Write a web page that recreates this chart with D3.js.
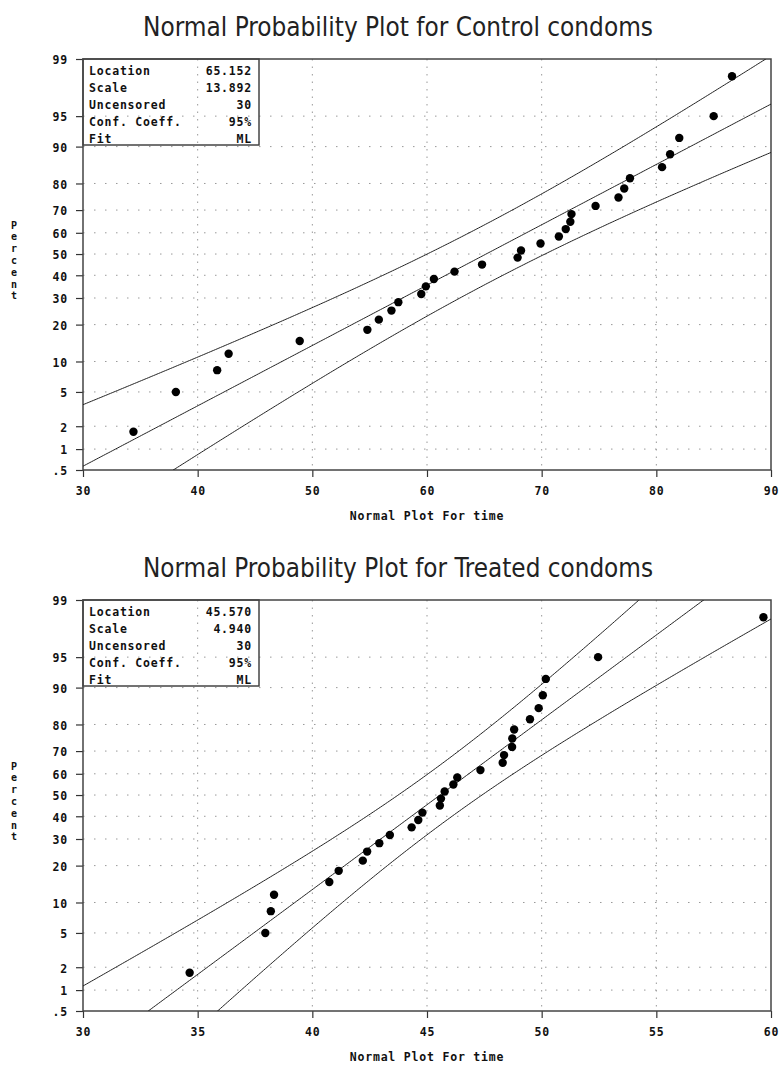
<!DOCTYPE html>
<html>
<head>
<meta charset="utf-8">
<script src="https://cdn.jsdelivr.net/npm/d3@7"></script>
<style>
  body { margin: 0; background: #fff; }
  svg { display: block; }
  .lbl { font-family: "DejaVu Sans Mono", monospace; font-weight: bold; font-size: 11.5px; fill: #111; letter-spacing: 0.8px; }
  .ylet { font-family: "DejaVu Sans Mono", monospace; font-weight: bold; font-size: 10px; fill: #111; }
  .title { font-family: "Liberation Sans Narrow", "DejaVu Sans Condensed", "Liberation Sans", sans-serif; font-size: 26px; fill: #222; }
</style>
</head>
<body>
<div id="chart"></div>
<script>
// plotting positions (percent) shared by both samples
const percents = [1.7, 5, 8.3, 11.7, 15, 18.3, 21.7, 25, 28.3, 31.7, 35, 38.3, 41.7, 45, 48.3,
                  51.7, 55, 58.3, 61.7, 65, 68.3, 71.7, 75, 78.3, 81.7, 85, 88.3, 91.7, 95, 98.3];

const controlTime = [34.4, 38.1, 41.7, 42.7, 48.9, 54.8, 55.8, 56.9, 57.5, 59.5, 59.9, 60.6, 62.4, 64.8, 67.9,
                     68.2, 69.9, 71.5, 72.1, 72.5, 72.6, 74.7, 76.7, 77.2, 77.7, 80.5, 81.2, 82.0, 85.0, 86.6];
const treatedTime = [34.65, 37.95, 38.19, 38.33, 40.74, 41.15, 42.20, 42.39, 42.92, 43.38, 44.33, 44.62, 44.80, 45.56, 45.61,
                     45.77, 46.15, 46.32, 47.33, 48.30, 48.36, 48.71, 48.72, 48.80, 49.49, 49.87, 50.05, 50.18, 52.46, 59.67];

const controlFit = { location: 65.152, scale: 13.892, n: 30, conf: 0.95 };
const treatedFit = { location: 45.570, scale: 4.940, n: 30, conf: 0.95 };

const percentTicks = [0.5, 1, 2, 5, 10, 20, 30, 40, 50, 60, 70, 80, 90, 95, 99];
const percentLabels = [".5", "1", "2", "5", "10", "20", "30", "40", "50", "60", "70", "80", "90", "95", "99"];
const controlXTicks = [30, 40, 50, 60, 70, 80, 90];
const treatedXTicks = [30, 35, 40, 45, 50, 55, 60];

// inverse normal cdf (Acklam)
function probit(p) {
  const a = [-3.969683028665376e+01, 2.209460984245205e+02, -2.759285104469687e+02, 1.383577518672690e+02, -3.066479806614716e+01, 2.506628277459239e+00];
  const b = [-5.447609879822406e+01, 1.615858368580409e+02, -1.556989798598866e+02, 6.680131188771972e+01, -1.328068155288572e+01];
  const c = [-7.784894002430293e-03, -3.223964580411365e-01, -2.400758277161838e+00, -2.549732539343734e+00, 4.374664141464968e+00, 2.938163982698783e+00];
  const d = [7.784695709041462e-03, 3.224671290700398e-01, 2.445134137142996e+00, 3.754408661907416e+00];
  const pl = 0.02425;
  let q, r;
  if (p < pl) {
    q = Math.sqrt(-2 * Math.log(p));
    return (((((c[0]*q+c[1])*q+c[2])*q+c[3])*q+c[4])*q+c[5]) / ((((d[0]*q+d[1])*q+d[2])*q+d[3])*q+1);
  }
  if (p <= 1 - pl) {
    q = p - 0.5; r = q * q;
    return (((((a[0]*r+a[1])*r+a[2])*r+a[3])*r+a[4])*r+a[5])*q / (((((b[0]*r+b[1])*r+b[2])*r+b[3])*r+b[4])*r+1);
  }
  q = Math.sqrt(-2 * Math.log(1 - p));
  return -(((((c[0]*q+c[1])*q+c[2])*q+c[3])*q+c[4])*q+c[5]) / ((((d[0]*q+d[1])*q+d[2])*q+d[3])*q+1);
}

const W = 779, H = 1070;
const svg = d3.select("#chart").append("svg").attr("width", W).attr("height", H);

const left = 83, right = 771, plotH = 411;

function drawPanel(top, title, xs, fit, xTicks, id) {
  const w = right - left;
  const g = svg.append("g").attr("transform", `translate(${left},${top})`);

  const x = d3.scaleLinear().domain(d3.extent(xTicks)).range([0, w]);
  const z = d3.scaleLinear().domain([probit(0.005), probit(0.99)]).range([plotH, 0]);

  // title
  svg.append("text")
    .attr("class", "title")
    .attr("x", 398)
    .attr("y", top - 23)
    .attr("text-anchor", "middle")
    .attr("textLength", 510)
    .attr("lengthAdjust", "spacingAndGlyphs")
    .text(title);

  g.append("clipPath").attr("id", id)
    .append("rect").attr("width", w).attr("height", plotH);

  // grid
  g.selectAll(".hgrid")
    .data(percentTicks.slice(1, -1))
    .enter().append("line")
    .attr("x1", 0).attr("x2", w)
    .attr("y1", d => z(probit(d / 100))).attr("y2", d => z(probit(d / 100)))
    .attr("stroke", "#999").attr("stroke-dasharray", "1.5,9.5");

  g.selectAll(".vgrid")
    .data(xTicks.slice(1, -1))
    .enter().append("line")
    .attr("y1", 0).attr("y2", plotH)
    .attr("x1", d => x(d)).attr("x2", d => x(d))
    .attr("stroke", "#999").attr("stroke-dasharray", "1.5,6");

  // axes
  const yAxis = g.append("g")
    .call(d3.axisLeft(z)
      .tickValues(percentTicks.map(p => probit(p / 100)))
      .tickFormat((d, i) => percentLabels[i])
      .tickSize(7).tickPadding(8));
  const xAxis = g.append("g")
    .attr("transform", `translate(0,${plotH})`)
    .call(d3.axisBottom(x).tickValues(xTicks).tickFormat(d3.format("d")).tickSize(7).tickPadding(10));

  [yAxis, xAxis].forEach(a => {
    a.select(".domain").remove();
    a.selectAll("line").attr("stroke", "#333").attr("stroke-width", 1.2);
    a.selectAll("text").attr("class", "lbl").attr("fill", "#111");
  });
  yAxis.selectAll("text").attr("dy", "0.42em");

  // frame
  g.append("rect")
    .attr("width", w).attr("height", plotH)
    .attr("fill", "none").attr("stroke", "#444").attr("stroke-width", 1.5);

  // x axis title
  g.append("text").attr("class", "lbl")
    .attr("x", w / 2).attr("y", plotH + 50)
    .attr("text-anchor", "middle")
    .text("Normal Plot For time");

  // y axis title, stacked letters
  g.selectAll(".ylet")
    .data("Percent".split(""))
    .enter().append("text")
    .attr("class", "ylet")
    .attr("text-anchor", "middle")
    .attr("x", 14 - left)
    .attr("y", (d, i) => plotH / 2 - 36 + i * 11.8)
    .text(d => d);

  // fitted line and confidence band
  const k = probit(1 - (1 - fit.conf) / 2);
  const grid = d3.range(0, 401).map(i => x.domain()[0] + (x.domain()[1] - x.domain()[0]) * i / 400);
  const zc = v => (v - fit.location) / fit.scale;
  const band = v => k * Math.sqrt((1 + zc(v) * zc(v) / 2) / fit.n);
  const fitLines = [
    v => zc(v),
    v => zc(v) + band(v),
    v => zc(v) - band(v)
  ];
  const plotLines = g.append("g").attr("clip-path", `url(#${id})`);
  fitLines.forEach(f => {
    plotLines.append("path")
      .datum(grid)
      .attr("d", d3.line().x(v => x(v)).y(v => z(f(v))))
      .attr("fill", "none").attr("stroke", "#222").attr("stroke-width", 1);
  });

  // points
  g.selectAll(".pt")
    .data(xs.map((v, i) => ({ v, p: percents[i] })))
    .enter().append("circle")
    .attr("cx", d => x(d.v))
    .attr("cy", d => z(probit(d.p / 100)))
    .attr("r", 4.2)
    .attr("fill", "#000");

  // inset table
  const rows = [
    ["Location", fit.location.toFixed(3)],
    ["Scale", fit.scale.toFixed(3)],
    ["Uncensored", String(fit.n)],
    ["Conf. Coeff.", Math.round(fit.conf * 100) + "%"],
    ["Fit", "ML"]
  ];
  g.append("rect")
    .attr("width", 176).attr("height", 86)
    .attr("fill", "none").attr("stroke", "#444").attr("stroke-width", 1.5);
  rows.forEach((r, i) => {
    g.append("text").attr("class", "lbl").attr("x", 6).attr("y", 16 + i * 17).text(r[0]);
    g.append("text").attr("class", "lbl").attr("x", 169).attr("y", 16 + i * 17)
      .attr("text-anchor", "end").text(r[1]);
  });
}

drawPanel(59, "Normal Probability Plot for Control condoms", controlTime, controlFit, controlXTicks, "clipC");
drawPanel(600, "Normal Probability Plot for Treated condoms", treatedTime, treatedFit, treatedXTicks, "clipT");
</script>
</body>
</html>
